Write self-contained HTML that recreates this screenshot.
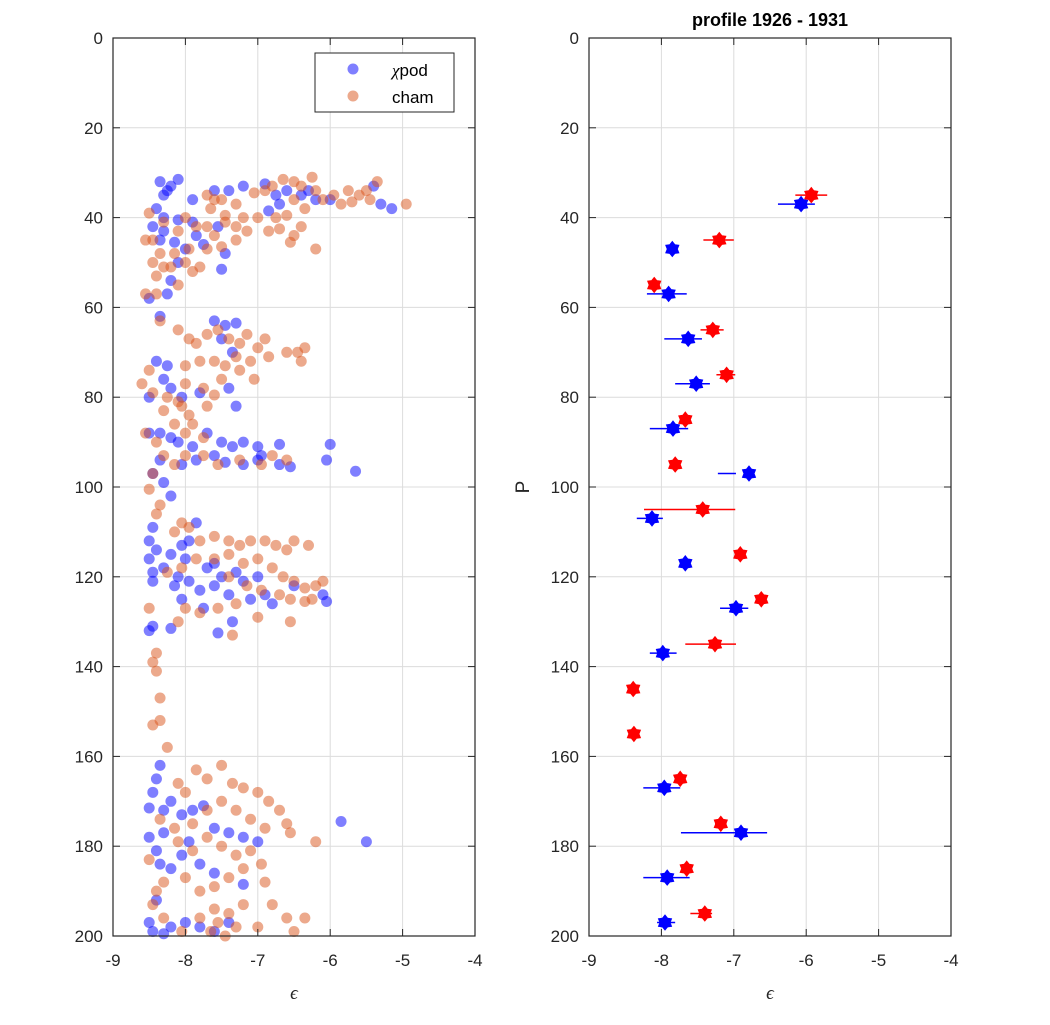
<!DOCTYPE html>
<html><head><meta charset="utf-8"><style>
body{margin:0;background:#fff;}
svg text{font-family:"Liberation Sans",sans-serif;}
</style></head><body>
<svg id="chart" width="1050" height="1020" xmlns="http://www.w3.org/2000/svg">
<g id="g1"></g>
<g id="g2"></g>
</svg>
<script>
const xTicks=[-9,-8,-7,-6,-5,-4];
const yTicks=[0,20,40,60,80,100,120,140,160,180,200];
const chiEps=[[-8.35,32],[-8.2,33],[-8.1,31.5],[-8.25,34],[-8.3,35],[-8.4,38],[-8.3,40],[-7.9,36],[-7.6,34],[-7.4,34],[-7.2,33],[-6.9,32.5],[-6.75,35],[-6.7,37],[-6.6,34],[-6.3,34],[-6.2,36],[-6.0,36],[-5.4,33],[-5.3,37],[-5.15,38],[-6.4,35],[-6.85,38.5],
[-8.45,42],[-8.3,43],[-8.35,45],[-8.1,40.5],[-7.9,41],[-7.75,46],[-7.55,42],[-8.0,47],[-7.45,48],[-7.5,51.5],[-8.1,50],[-8.2,54],[-8.25,57],[-8.5,58],[-7.85,44],[-8.15,45.5],
[-8.35,62],[-7.6,63],[-7.45,64],[-7.3,63.5],[-7.5,67],[-7.35,70],[-8.4,72],[-8.25,73],[-8.3,76],[-8.2,78],[-8.05,80],[-8.5,80],[-7.8,79],[-7.4,78],[-7.3,82],[-8.5,88],[-8.35,88],[-8.2,89],[-8.1,90],[-7.9,91],[-7.7,88],[-7.5,90],[-7.35,91],[-7.2,90],[-6.7,90.5],[-6.0,90.5],[-6.05,94],[-5.65,96.5],[-6.55,95.5],[-6.7,95],[-7.0,94],[-7.2,95],[-7.45,94.5],[-7.6,93],[-7.85,94],[-8.05,95],[-8.35,94],[-8.45,97],[-7.0,91],[-8.3,99],[-8.2,102],[-6.95,93],
[-8.45,109],[-8.5,112],[-8.4,114],[-8.5,116],[-8.45,119],[-8.45,121],[-8.3,118],[-8.2,115],[-8.05,113],[-7.85,108],[-7.95,112],[-8.0,116],[-8.1,120],[-7.95,121],[-8.15,122],[-8.05,125],[-7.8,123],[-7.75,127],[-7.5,120],[-7.4,124],[-7.6,122],[-7.3,119],[-7.2,121],[-7.0,120],[-6.9,124],[-6.8,126],[-6.5,122],[-6.1,124],[-6.05,125.5],[-7.35,130],[-7.55,132.5],[-8.45,131],[-8.5,132],[-8.2,131.5],[-7.1,125],[-7.7,118],[-7.6,117],
[-8.35,162],[-8.4,165],[-8.45,168],[-8.5,171.5],[-8.3,172],[-8.2,170],[-8.05,173],[-7.9,172],[-7.75,171],[-7.6,176],[-7.4,177],[-7.2,178],[-7.0,179],[-8.3,177],[-8.5,178],[-8.4,181],[-8.35,184],[-8.2,185],[-8.05,182],[-7.95,179],[-7.8,184],[-7.6,186],[-7.2,188.5],[-5.85,174.5],[-5.5,179],[-8.5,197],[-8.45,199],[-8.3,199.5],[-8.2,198],[-8.0,197],[-7.8,198],[-7.6,199],[-7.4,197],[-8.4,192]];
const chamEps=[[-7.7,35],[-7.6,36],[-7.5,36],[-7.3,37],[-7.05,34.5],[-6.9,34],[-6.8,33],[-6.65,31.5],[-6.5,32],[-6.4,33],[-6.25,31],[-6.2,34],[-6.1,36],[-5.95,35],[-5.85,37],[-5.75,34],[-5.6,35],[-5.5,34],[-5.45,36],[-5.35,32],[-4.95,37],[-5.7,36.5],[-6.5,36],[-6.35,38],[-6.6,39.5],[-6.75,40],[-7.0,40],[-7.2,40],[-7.45,39.5],[-7.65,38],[-8.5,39],[-8.55,45],[-8.45,45],[-8.35,48],[-8.45,50],[-8.4,53],[-8.1,43],[-8.0,40],[-7.85,42],[-7.7,42],[-7.6,44],[-7.45,41],[-7.3,42],[-7.15,43],[-6.85,43],[-6.7,42.5],[-6.5,44],[-6.4,42],[-6.2,47],[-6.55,45.5],[-7.3,45],[-7.5,46.5],[-7.7,47],[-7.95,47],[-8.15,48],[-8.2,51],[-8.0,50],[-7.8,51],[-7.9,52],[-8.3,51],[-8.1,55],[-8.4,57],[-8.55,57],[-8.3,41],
[-8.35,63],[-8.1,65],[-7.95,67],[-7.85,68],[-7.7,66],[-7.55,65],[-7.4,67],[-7.25,68],[-7.15,66],[-7.0,69],[-6.9,67],[-6.85,71],[-6.6,70],[-6.45,70],[-6.4,72],[-6.35,69],[-7.1,72],[-7.3,71],[-7.45,73],[-7.6,72],[-7.8,72],[-8.0,73],[-8.5,74],[-8.6,77],[-8.45,79],[-8.25,80],[-8.05,82],[-7.95,84],[-8.15,86],[-8.0,88],[-7.9,86],[-7.75,89],[-8.3,83],[-8.55,88],[-8.4,90],[-8.3,93],[-8.15,95],[-8.0,93],[-7.75,93],[-7.55,95],[-7.25,94],[-6.95,95],[-6.8,93],[-6.6,94],[-7.05,76],[-7.25,74],[-7.5,76],[-7.75,78],[-8.0,77],[-8.5,100.5],[-8.35,104],[-8.4,106],[-8.45,97],[-7.7,82],[-8.1,81],[-7.6,79.5],
[-8.05,108],[-7.95,109],[-8.15,110],[-7.8,112],[-7.6,111],[-7.4,112],[-7.25,113],[-7.1,112],[-6.9,112],[-6.75,113],[-6.6,114],[-6.5,112],[-6.3,113],[-6.1,121],[-6.2,122],[-6.35,122.5],[-6.5,121],[-6.65,120],[-6.8,118],[-7.0,116],[-7.2,117],[-7.4,115],[-7.6,116],[-7.85,116],[-8.05,118],[-8.25,119],[-7.4,120],[-7.15,122],[-6.95,123],[-6.7,124],[-6.55,125],[-6.35,125.5],[-7.3,126],[-7.55,127],[-7.8,128],[-8.0,127],[-8.5,127],[-7.35,133],[-6.55,130],[-7.0,129],[-8.1,130],[-8.4,137],[-8.45,139],[-8.4,141],[-8.35,147],[-8.35,152],[-8.45,153],[-8.25,158],[-6.25,125],
[-8.1,166],[-8.0,168],[-7.85,163],[-7.7,165],[-7.5,162],[-7.35,166],[-7.2,167],[-7.0,168],[-6.85,170],[-6.7,172],[-6.6,175],[-6.55,177],[-6.2,179],[-6.9,176],[-7.1,174],[-7.3,172],[-7.5,170],[-7.7,172],[-7.9,175],[-8.15,176],[-8.35,174],[-8.1,179],[-7.9,181],[-7.7,178],[-7.5,180],[-7.3,182],[-7.1,181],[-6.95,184],[-7.2,185],[-7.4,187],[-7.6,189],[-7.8,190],[-8.0,187],[-8.3,188],[-8.5,183],[-8.4,190],[-8.45,193],[-8.3,196],[-8.05,199],[-7.8,196],[-7.6,194],[-7.4,195],[-7.3,198],[-7.45,200],[-7.65,199],[-6.9,188],[-6.6,196],[-6.5,199],[-6.35,196],[-6.8,193],[-7.0,198],[-7.2,193],[-7.55,197]];
const chamP=[35,45,55,65,75,85,95,105,115,125,135,145,155,165,175,185,195];
const chamMean=[-5.93,-7.2,-8.1,-7.29,-7.1,-7.67,-7.81,-7.43,-6.91,-6.62,-7.26,-8.39,-8.38,-7.74,-7.18,-7.65,-7.4];
const chamLo=[-6.15,-7.42,-8.1,-7.46,-7.24,-7.67,-7.81,-8.24,-6.91,-6.62,-7.67,-8.39,-8.38,-7.74,-7.26,-7.65,-7.6];
const chamHi=[-5.71,-7.0,-8.1,-7.14,-6.98,-7.67,-7.81,-6.98,-6.91,-6.62,-6.97,-8.39,-8.38,-7.74,-7.1,-7.65,-7.3];
const chiP=[37,47,57,67,77,87,97,107,117,127,137,167,177,187,197];
const chiMean=[-6.07,-7.85,-7.9,-7.63,-7.52,-7.84,-6.79,-8.13,-7.67,-6.97,-7.98,-7.96,-6.9,-7.92,-7.95];
const chiLo=[-6.39,-7.85,-8.2,-7.96,-7.81,-8.16,-7.22,-8.34,-7.67,-7.19,-8.16,-8.25,-7.73,-8.25,-8.06];
const chiHi=[-5.88,-7.85,-7.65,-7.44,-7.33,-7.63,-6.97,-7.98,-7.67,-6.8,-7.79,-7.74,-6.54,-7.61,-7.81];

const NS='http://www.w3.org/2000/svg';
function mk(p,t,a){const e=document.createElementNS(NS,t);for(const k in a)e.setAttribute(k,a[k]);p.appendChild(e);return e;}
const yTop=38,yBot=936;
function axes(g,x0,x1){
  const sx=v=>x0+(v+9)/5*(x1-x0), sy=v=>yTop+v/200*(yBot-yTop);
  xTicks.forEach(t=>{const l=mk(g,'line',{x1:sx(t),x2:sx(t),y1:yTop,y2:yBot,stroke:'#dcdcdc','stroke-width':1});
    
    });
  yTicks.forEach(t=>{const l=mk(g,'line',{x1:x0,x2:x1,y1:sy(t),y2:sy(t),stroke:'#dcdcdc','stroke-width':1});
    
    });
  return {sx,sy};
}
function frame(g,x0,x1,sx,sy){
  const r=mk(g,'rect',{x:x0,y:yTop,width:x1-x0,height:yBot-yTop,fill:'none',stroke:'#262626','stroke-width':1.2});
  
  
  xTicks.forEach(t=>{mk(g,'line',{x1:sx(t),x2:sx(t),y1:yBot,y2:yBot-7,stroke:'#262626'});mk(g,'line',{x1:sx(t),x2:sx(t),y1:yTop,y2:yTop+7,stroke:'#262626'});
    const tx=mk(g,'text',{x:sx(t),y:yBot+30,'text-anchor':'middle','font-size':17,fill:'#262626'});tx.textContent=t;
    
    });
  yTicks.forEach(t=>{mk(g,'line',{x1:x0,x2:x0+7,y1:sy(t),y2:sy(t),stroke:'#262626'});mk(g,'line',{x1:x1,x2:x1-7,y1:sy(t),y2:sy(t),stroke:'#262626'});
    const tx=mk(g,'text',{x:x0-10,y:sy(t)+6,'text-anchor':'end','font-size':17,fill:'#262626'});tx.textContent=t;
    
    });
  const xl=mk(g,'text',{x:(x0+x1)/2,y:999,'text-anchor':'middle','font-size':19,'font-style':'italic',fill:'#262626',style:'font-family:"Liberation Serif",serif'});xl.textContent='ϵ';
  
  
}
const g1=document.getElementById('g1');
const A=axes(g1,113,475);
chiEps.forEach(d=>{const c=mk(g1,'circle',{cx:A.sx(d[0]),cy:A.sy(d[1]),r:5.5,fill:'#0000ff','fill-opacity':0.5});
  
  });
chamEps.forEach(d=>{const c=mk(g1,'circle',{cx:A.sx(d[0]),cy:A.sy(d[1]),r:5.5,fill:'#d95319','fill-opacity':0.5});
  
  });
frame(g1,113,475,A.sx,A.sy);
const lg=mk(g1,'g',{});


mk(lg,'rect',{x:315,y:53,width:139,height:59,fill:'#fff',stroke:'#262626'});
mk(lg,'circle',{cx:353,cy:69,r:5.5,fill:'#0000ff','fill-opacity':0.5});
mk(lg,'circle',{cx:353,cy:96,r:5.5,fill:'#d95319','fill-opacity':0.5});
let t=mk(lg,'text',{x:392,y:76,'font-size':17});t.innerHTML='<tspan style="font-family:Liberation Serif,serif;font-style:italic">χ</tspan>pod';


t=mk(lg,'text',{x:392,y:103,'font-size':17});t.textContent='cham';


const g2=document.getElementById('g2');
const B=axes(g2,589,951);
function star(g,cx,cy,col){
  let pts=[];for(let i=0;i<12;i++){const r=i%2?5:7.5,a=Math.PI/6*i;pts.push((cx+r*Math.sin(a)).toFixed(1)+','+(cy-r*Math.cos(a)).toFixed(1));}
  return mk(g,'polygon',{points:pts.join(' '),fill:col,stroke:col,'stroke-width':1});
}
function series(P,M,L,H,col,nm){
  P.forEach((p,i)=>{const y=B.sy(p);
    const l=mk(g2,'line',{x1:B.sx(L[i]),x2:B.sx(H[i]),y1:y,y2:y,stroke:col,'stroke-width':1.5});
    
    
    const s=star(g2,B.sx(M[i]),y,col);
    
    });
}
series(chamP,chamMean,chamLo,chamHi,'#ff0000','cham');
series(chiP,chiMean,chiLo,chiHi,'#0000ff','chipod');
frame(g2,589,951,B.sx,B.sy);
t=mk(g2,'text',{x:770,y:26,'text-anchor':'middle','font-size':18,'font-weight':'bold',fill:'#000'});t.textContent='profile 1926 - 1931';


t=mk(g2,'text',{x:0,y:0,'text-anchor':'middle','font-size':19,fill:'#262626',transform:'translate(529,487) rotate(-90)'});t.textContent='P';


</script>
</body></html>
